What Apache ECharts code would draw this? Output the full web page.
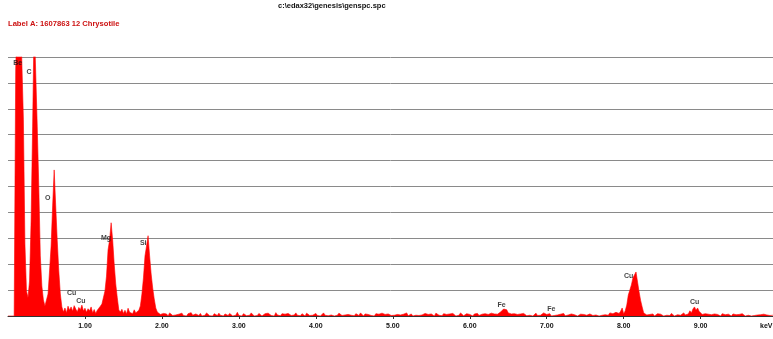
<!DOCTYPE html>
<html>
<head>
<meta charset="utf-8">
<script src="https://cdn.jsdelivr.net/npm/echarts@6/dist/echarts.min.js"></script>
<style>
html,body{margin:0;padding:0;background:#fff;}
#chart{width:773px;height:339px;}
</style>
</head>
<body>
<div id="chart"></div>
<script>
// EDS spectrum: channel width in keV and counts per channel (channel 0 = 0 keV)
const channelKeV = 0.02;
const counts = [
  0,0,0,0,0,950,1200,1200,1200,1200,
  760,278,97,70,135,367,733,1150,1150,733,
  500,232,116,62,39,46,85,174,270,425,
  564,425,290,174,85,35,15,31,12,38,
  22,35,18,40,27,15,33,24,42,19,
  30,14,28,20,35,12,25,10,22,30,
  38,46,50,97,154,255,293,360,293,200,
  124,70,23,15,26,10,22,8,30,14,
  20,9,24,12,18,22,39,85,147,232,
  270,310,232,162,108,66,31,15,12,6,
  4,10,3,8,0,12,5,2,9,4,
  0,7,3,11,2,6,0,9,4,13,
  3,0,8,5,2,10,0,6,3,12,
  5,1,7,0,9,4,2,11,3,6,
  0,8,4,2,10,5,0,7,3,14,
  2,6,0,9,4,1,8,3,12,5,
  0,7,2,10,4,0,6,9,3,11,
  5,2,8,0,13,4,6,1,9,3,
  7,0,10,5,2,8,4,12,3,6,
  1,9,4,0,11,6,2,8,3,5,
  10,2,7,0,5,12,3,8,1,6,
  4,9,0,7,3,11,5,2,8,4,
  0,6,10,3,7,1,9,4,2,12,
  5,0,8,3,6,10,2,4,0,9,
  3,7,1,11,4,6,0,8,5,2,
  9,3,0,6,10,4,2,7,3,12,
  1,5,8,0,6,3,9,2,7,4,
  0,10,3,6,2,8,4,0,11,5,
  3,7,1,9,4,6,0,8,2,10,
  4,0,7,3,12,5,1,6,9,2,
  6,3,0,8,4,10,2,5,7,1,
  9,3,6,0,11,4,8,2,7,8,
  15,12,27,20,24,12,14,8,5,9,
  2,6,0,8,3,10,4,1,7,3,
  9,0,5,11,2,6,3,8,12,15,
  6,3,9,0,5,2,8,4,0,7,
  3,10,1,6,4,0,8,2,5,9,
  0,4,7,2,6,11,3,0,8,5,
  2,9,4,6,0,7,3,10,5,8,
  3,12,6,9,4,14,7,10,18,31,
  8,20,42,81,100,120,147,140,170,131,
  93,60,35,12,9,4,10,6,3,8,
  0,5,9,2,7,4,0,6,3,8,
  2,10,4,0,7,5,9,3,6,12,
  4,7,8,20,12,27,35,22,31,18,
  12,6,4,9,2,7,0,5,3,8,
  1,6,4,0,9,3,5,2,7,4,
  0,8,3,5,1,6,2,9,4,0,
  7,3,5,0,6,2,8,4,1,5,
  3,7,0,4,6,2,5,3
];

// Element peak labels
const peakNames  = ['Be','C','O','Cu','Cu','Mg','Si','Fe','Fe','Cu','Cu'];
const peakKeV    = [0.127,0.273,0.516,0.827,0.948,1.273,1.757,6.412,7.061,8.065,8.922];
const peakCounts = [976,941,454,90,59,302,281,42,28,154,53];

// Axis tick labels
const xTickValues = [1,2,3,4,5,6,7,8,9];
const xTickLabels = ['1.00','2.00','3.00','4.00','5.00','6.00','7.00','8.00','9.00'];

const titleText = 'c:\\edax32\\genesis\\genspc.spc';
const subtitleText = 'Label A: 1607863 12 Chrysotile';

const spectrum = counts.map((c, i) => [+(i * channelKeV).toFixed(2), c]);
const labelData = peakNames.map((n, i) => ({ name: n, value: [peakKeV[i], peakCounts[i]] }));

const FONT = '"Liberation Sans", Arial, sans-serif';
const chart = echarts.init(document.getElementById('chart'), null, { renderer: 'canvas' });
chart.setOption({
  animation: false,
  backgroundColor: '#ffffff',
  title: [
    { text: titleText, left: 278, top: 2, padding: 0,
      textStyle: { fontFamily: FONT, fontSize: 7.5, fontWeight: 'bold', color: '#111' } },
    { text: subtitleText, left: 8, top: 20, padding: 0,
      textStyle: { fontFamily: FONT, fontSize: 7.6, fontWeight: 'bold', color: '#cc1111' } }
  ],
  grid: { left: 8, right: 0, top: 57, bottom: 23, containLabel: false },
  xAxis: {
    type: 'value', min: 0, max: 9.94, interval: 1, offset: 2,
    axisLine: { show: true, lineStyle: { color: '#333', width: 1 } },
    axisTick: { show: true, length: 3, lineStyle: { color: '#333' } },
    splitLine: { show: false },
    axisLabel: {
      show: true, margin: 5, showMinLabel: false, showMaxLabel: false,
      fontFamily: FONT, fontSize: 7, fontWeight: 'bold', color: '#111',
      formatter: v => { const k = xTickValues.indexOf(Math.round(v)); return (k >= 0 && Math.abs(v - Math.round(v)) < 1e-6) ? xTickLabels[k] : ''; }
    }
  },
  yAxis: {
    type: 'value', min: 0, max: 1000, interval: 100,
    axisLine: { show: false }, axisTick: { show: false }, axisLabel: { show: false },
    splitLine: { show: true, lineStyle: { color: '#8a8a8a', width: 1 } }
  },
  graphic: [
    { type: 'text', left: 760, top: 323,
      style: { text: 'keV', font: 'bold 7px ' + FONT, fill: '#111' } }
  ],
  series: [
    {
      type: 'line', data: spectrum, symbol: 'none', sampling: null, clip: true,
      lineStyle: { color: '#ff0000', width: 0.6 },
      areaStyle: { color: '#ff0000', opacity: 1 },
      itemStyle: { color: '#ff0000' }, z: 2
    },
    {
      type: 'scatter', data: labelData, symbolSize: 1, z: 5,
      itemStyle: { color: 'rgba(0,0,0,0)' },
      label: { show: true, position: 'inside', formatter: p => p.name,
        fontFamily: FONT, fontSize: 7, fontWeight: 'bold', color: '#111' }
    }
  ]
});
</script>
</body>
</html>
